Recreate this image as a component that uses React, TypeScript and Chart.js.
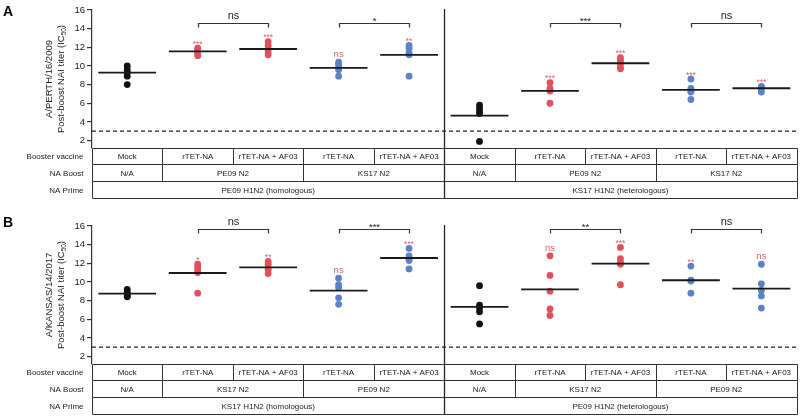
import React, { useEffect, useRef } from 'react';
import { Chart, registerables } from 'chart.js';

Chart.register(...registerables);

const FONT = '"Liberation Sans", Arial, Helvetica, sans-serif';
const RED = '#e3505b';
const BLUE = '#5b82c4';
const BLACK = '#111111';
const LABEL_RED = '#e0606b';
const INK = '#222222';

// ---------- shared data ----------
const yTicks = [2, 4, 6, 8, 10, 12, 14, 16];
const yMin = 1.2;
const yMax = 16;
const detectionLimit = 3;
const boosterVaccine = [
  'Mock', 'rTET-NA', 'rTET-NA + AF03', 'rTET-NA', 'rTET-NA + AF03',
  'Mock', 'rTET-NA', 'rTET-NA + AF03', 'rTET-NA', 'rTET-NA + AF03',
];
const rowLabels = ['Booster vaccine', 'NA Boost', 'NA Prime'];
const groupColors = [BLACK, RED, RED, BLUE, BLUE, BLACK, RED, RED, BLUE, BLUE];

// ---------- panel A ----------
const panelAStrain = 'A/PERTH/16/2009';
const panelAPoints = [
  [10.0, 9.6, 9.3, 8.9, 8.0],
  [11.9, 11.7, 11.5, 11.3, 11.1],
  [12.6, 12.2, 11.8, 11.5, 11.2],
  [10.4, 10.1, 9.8, 9.6, 8.9],
  [12.2, 11.9, 11.4, 11.2, 8.9],
  [5.8, 5.5, 5.2, 4.9, 1.9],
  [8.2, 7.6, 7.4, 7.3, 6.0],
  [10.9, 10.6, 10.3, 9.9, 9.7],
  [8.6, 7.6, 7.3, 7.2, 6.4],
  [7.8, 7.7, 7.5, 7.2],
];
const panelAMeans = [9.29, 11.57, 11.82, 9.79, 11.18, 4.68, 7.32, 10.29, 7.43, 7.61];
const panelAGroupLabels = ['', '***', '***', 'ns', '**', '', '***', '***', '***', '***'];
const panelAComparisons: [number, number, string][] = [[1, 2, 'ns'], [3, 4, '*'], [6, 7, '***'], [8, 9, 'ns']];
const panelABracketY = 14.6;
const panelANaBoost: [string, number, number][] = [
  ['N/A', 0, 1], ['PE09 N2', 1, 3], ['KS17 N2', 3, 5], ['N/A', 5, 6], ['PE09 N2', 6, 8], ['KS17 N2', 8, 10],
];
const panelANaPrime: [string, number, number][] = [
  ['PE09 H1N2 (homologous)', 0, 5], ['KS17 H1N2 (heterologous)', 5, 10],
];

// ---------- panel B ----------
const panelBStrain = 'A/KANSAS/14/2017';
const panelBPoints = [
  [9.2, 8.9, 8.7, 8.5, 8.4],
  [11.9, 11.6, 11.3, 11.0, 8.8],
  [12.2, 11.9, 11.5, 11.3, 10.9],
  [10.4, 9.7, 9.4, 8.3, 7.6],
  [13.6, 12.8, 12.5, 12.3, 11.4],
  [9.6, 7.5, 7.2, 6.8, 5.5],
  [12.8, 10.7, 9.0, 7.1, 6.4],
  [13.7, 12.5, 12.1, 11.9, 9.7],
  [11.7, 10.2, 10.1, 8.8],
  [11.9, 9.8, 9.1, 8.5, 7.2],
];
const panelBMeans = [8.75, 10.96, 11.57, 9.07, 12.57, 7.32, 9.21, 11.96, 10.18, 9.29];
const panelBGroupLabels = ['', '*', '**', 'ns', '***', '', 'ns', '***', '**', 'ns'];
const panelBComparisons: [number, number, string][] = [[1, 2, 'ns'], [3, 4, '***'], [6, 7, '**'], [8, 9, 'ns']];
const panelBBracketY = 15.7;
const panelBNaBoost: [string, number, number][] = [
  ['N/A', 0, 1], ['KS17 N2', 1, 3], ['PE09 N2', 3, 5], ['N/A', 5, 6], ['KS17 N2', 6, 8], ['PE09 N2', 8, 10],
];
const panelBNaPrime: [string, number, number][] = [
  ['KS17 H1N2 (homologous)', 0, 5], ['PE09 H1N2 (heterologous)', 5, 10],
];

interface PanelSpec {
  letter: string;
  strain: string;
  points: number[][];
  means: number[];
  groupLabels: string[];
  comparisons: [number, number, string][];
  bracketY: number;
  naBoost: [string, number, number][];
  naPrime: [string, number, number][];
  padTop: number;
  padBottom: number;
  letterBaseline: number;
}

const panels: PanelSpec[] = [
  {
    letter: 'A', strain: panelAStrain, points: panelAPoints, means: panelAMeans,
    groupLabels: panelAGroupLabels, comparisons: panelAComparisons, bracketY: panelABracketY,
    naBoost: panelANaBoost, naPrime: panelANaPrime, padTop: 10, padBottom: 60, letterBaseline: 16,
  },
  {
    letter: 'B', strain: panelBStrain, points: panelBPoints, means: panelBMeans,
    groupLabels: panelBGroupLabels, comparisons: panelBComparisons, bracketY: panelBBracketY,
    naBoost: panelBNaBoost, naPrime: panelBNaPrime, padTop: 18, padBottom: 52, letterBaseline: 19,
  },
];

const ROW_H = [16.3, 16.3, 17];
const crisp = (v: number) => Math.round(v) + 0.5;

function makeDecor(p: PanelSpec) {
  return {
    id: 'decor' + p.letter,
    afterDraw(chart: any) {
      const ctx: CanvasRenderingContext2D = chart.ctx;
      const ca = chart.chartArea;
      const x = chart.scales.x;
      const y = chart.scales.y;
      const xl = crisp(x.getPixelForValue(0));
      const xr = crisp(x.getPixelForValue(10));
      const top = crisp(ca.bottom);
      const r1 = crisp(ca.bottom + ROW_H[0]);
      const r2 = crisp(ca.bottom + ROW_H[0] + ROW_H[1]);
      const r3 = crisp(ca.bottom + ROW_H[0] + ROW_H[1] + ROW_H[2]);
      ctx.save();

      // ---- table grid ----
      ctx.strokeStyle = '#333';
      ctx.lineWidth = 1;
      ctx.beginPath();
      [top, r1, r2, r3].forEach((yy) => { ctx.moveTo(xl, yy); ctx.lineTo(xr, yy); });
      for (let i = 0; i <= 10; i++) {
        const xx = crisp(x.getPixelForValue(i));
        ctx.moveTo(xx, top); ctx.lineTo(xx, r1);
      }
      const spanLines = (spans: [string, number, number][], y0: number, y1: number) => {
        spans.forEach(([, a, b]) => {
          [a, b].forEach((v) => {
            const xx = crisp(x.getPixelForValue(v));
            ctx.moveTo(xx, y0); ctx.lineTo(xx, y1);
          });
        });
      };
      spanLines(p.naBoost, r1, r2);
      spanLines(p.naPrime, r2, r3);
      ctx.stroke();

      // ---- vertical divider ----
      ctx.lineWidth = 1.3;
      ctx.strokeStyle = '#222';
      ctx.beginPath();
      const xd = crisp(x.getPixelForValue(5));
      ctx.moveTo(xd, ca.top - 1); ctx.lineTo(xd, r3);
      ctx.stroke();

      // ---- table text ----
      ctx.fillStyle = '#1a1a1a';
      ctx.font = `8px ${FONT}`;
      ctx.textBaseline = 'middle';
      ctx.textAlign = 'center';
      const midY = [(top + r1) / 2, (r1 + r2) / 2, (r2 + r3) / 2];
      boosterVaccine.forEach((t, i) => {
        ctx.fillText(t, x.getPixelForValue(i + 0.5), midY[0] + 0.5);
      });
      p.naBoost.forEach(([t, a, b]) => ctx.fillText(t, x.getPixelForValue((a + b) / 2), midY[1] + 0.5));
      p.naPrime.forEach(([t, a, b]) => ctx.fillText(t, x.getPixelForValue((a + b) / 2), midY[2] + 0.5));
      ctx.textAlign = 'right';
      rowLabels.forEach((t, i) => ctx.fillText(t, xl - 9, midY[i] + 0.5));

      // ---- group significance labels ----
      ctx.textBaseline = 'alphabetic';
      ctx.textAlign = 'center';
      ctx.fillStyle = LABEL_RED;
      p.groupLabels.forEach((lab, i) => {
        if (!lab) return;
        const topV = Math.max(...p.points[i]);
        const py = y.getPixelForValue(topV);
        const cx = x.getPixelForValue(i + 0.5);
        if (lab === 'ns') {
          ctx.font = `9.5px ${FONT}`;
          ctx.fillText(lab, cx, py - 5);
        } else {
          ctx.font = `8.5px ${FONT}`;
          ctx.fillText(lab, cx, py - 1.5);
        }
      });

      // ---- comparison brackets ----
      ctx.strokeStyle = '#333';
      ctx.lineWidth = 1.2;
      ctx.fillStyle = INK;
      const yb = crisp(y.getPixelForValue(p.bracketY));
      p.comparisons.forEach(([a, b, lab]) => {
        const xa = crisp(x.getPixelForValue(a + 0.5));
        const xb = crisp(x.getPixelForValue(b + 0.5));
        ctx.beginPath();
        ctx.moveTo(xa, yb + 4); ctx.lineTo(xa, yb); ctx.lineTo(xb, yb); ctx.lineTo(xb, yb + 4);
        ctx.stroke();
        const cx = (xa + xb) / 2;
        if (lab === 'ns') {
          ctx.font = `11px ${FONT}`;
          ctx.fillText(lab, cx, yb - 4.5);
        } else {
          ctx.font = `9.5px ${FONT}`;
          ctx.fillText(lab, cx, yb + 0.5);
        }
      });

      // ---- y title ----
      const cy = (ca.top + ca.bottom) / 2;
      ctx.translate(55, cy);
      ctx.rotate(-Math.PI / 2);
      ctx.fillStyle = INK;
      ctx.textBaseline = 'middle';
      ctx.textAlign = 'center';
      ctx.font = `9.5px ${FONT}`;
      ctx.fillText(p.strain, 0, -6);
      const main = 'Post-boost NAI titer (IC';
      const sub = '50';
      const tail = ')';
      ctx.font = `9.5px ${FONT}`;
      const w1 = ctx.measureText(main).width;
      const w3 = ctx.measureText(tail).width;
      ctx.font = `6.5px ${FONT}`;
      const w2 = ctx.measureText(sub).width;
      const start = -(w1 + w2 + w3) / 2;
      ctx.textAlign = 'left';
      ctx.font = `9.5px ${FONT}`;
      ctx.fillText(main, start, 6.5);
      ctx.font = `6.5px ${FONT}`;
      ctx.fillText(sub, start + w1, 9);
      ctx.font = `9.5px ${FONT}`;
      ctx.fillText(tail, start + w1 + w2, 6.5);
      ctx.setTransform(1, 0, 0, 1, 0, 0);

      // ---- panel letter ----
      ctx.fillStyle = '#000';
      ctx.font = `bold 14px ${FONT}`;
      ctx.textAlign = 'left';
      ctx.textBaseline = 'alphabetic';
      ctx.fillText(p.letter, 3, p.letterBaseline);
      ctx.restore();
    },
  };
}

function buildConfig(p: PanelSpec): any {
  const datasets: any[] = [];
  const pts: { x: number; y: number }[] = [];
  const cols: string[] = [];
  p.points.forEach((vals, i) => vals.forEach((v) => { pts.push({ x: i + 0.5, y: v }); cols.push(groupColors[i]); }));
  datasets.push({
    data: pts, showLine: false, pointRadius: 3.4, pointHoverRadius: 3.4,
    pointBackgroundColor: cols, pointBorderColor: cols, pointBorderWidth: 0, order: 2,
  });
  p.means.forEach((m, i) => {
    datasets.push({
      data: [{ x: i + 0.09, y: m }, { x: i + 0.91, y: m }], showLine: true,
      borderColor: '#1a1a1a', borderWidth: 1.8, pointRadius: 0, order: 1,
    });
  });
  datasets.push({
    data: [{ x: 0, y: detectionLimit }, { x: 10, y: detectionLimit }], showLine: true,
    borderColor: '#222', borderWidth: 1.2, borderDash: [4, 3], pointRadius: 0, order: 1,
  });
  return {
    type: 'scatter',
    data: { datasets },
    options: {
      responsive: false,
      animation: false,
      devicePixelRatio: 1,
      events: [],
      layout: { padding: { top: p.padTop, bottom: p.padBottom, left: 0, right: 3 } },
      plugins: { legend: { display: false }, tooltip: { enabled: false } },
      scales: {
        x: { type: 'linear', min: 0, max: 10, display: false },
        y: {
          type: 'linear', min: yMin, max: yMax,
          afterBuildTicks: (axis: any) => { axis.ticks = yTicks.map((v) => ({ value: v })); },
          afterFit: (axis: any) => { axis.width = 92; },
          border: { display: true, color: '#333', width: 1.2 },
          grid: { drawOnChartArea: false, drawTicks: true, tickLength: 5, color: '#333', lineWidth: 1.2 },
          ticks: { padding: 2, color: INK, font: { family: FONT, size: 9.5 } },
        },
      },
    },
    plugins: [makeDecor(p)],
  };
}

function Panel({ spec, top }: { spec: PanelSpec; top: number }) {
  const ref = useRef<HTMLCanvasElement | null>(null);
  useEffect(() => {
    if (!ref.current) return;
    const chart = new Chart(ref.current, buildConfig(spec));
    return () => chart.destroy();
  }, [spec]);
  return (
    <canvas
      ref={ref}
      width={800}
      height={208}
      style={{ position: 'absolute', left: 0, top, width: 800, height: 208, display: 'block' }}
    />
  );
}

export default function App() {
  return (
    <div style={{ position: 'fixed', left: 0, top: 0, width: 800, height: 416, background: '#fff', overflow: 'hidden' }}>
      <Panel spec={panels[0]} top={0} />
      <Panel spec={panels[1]} top={208} />
    </div>
  );
}
